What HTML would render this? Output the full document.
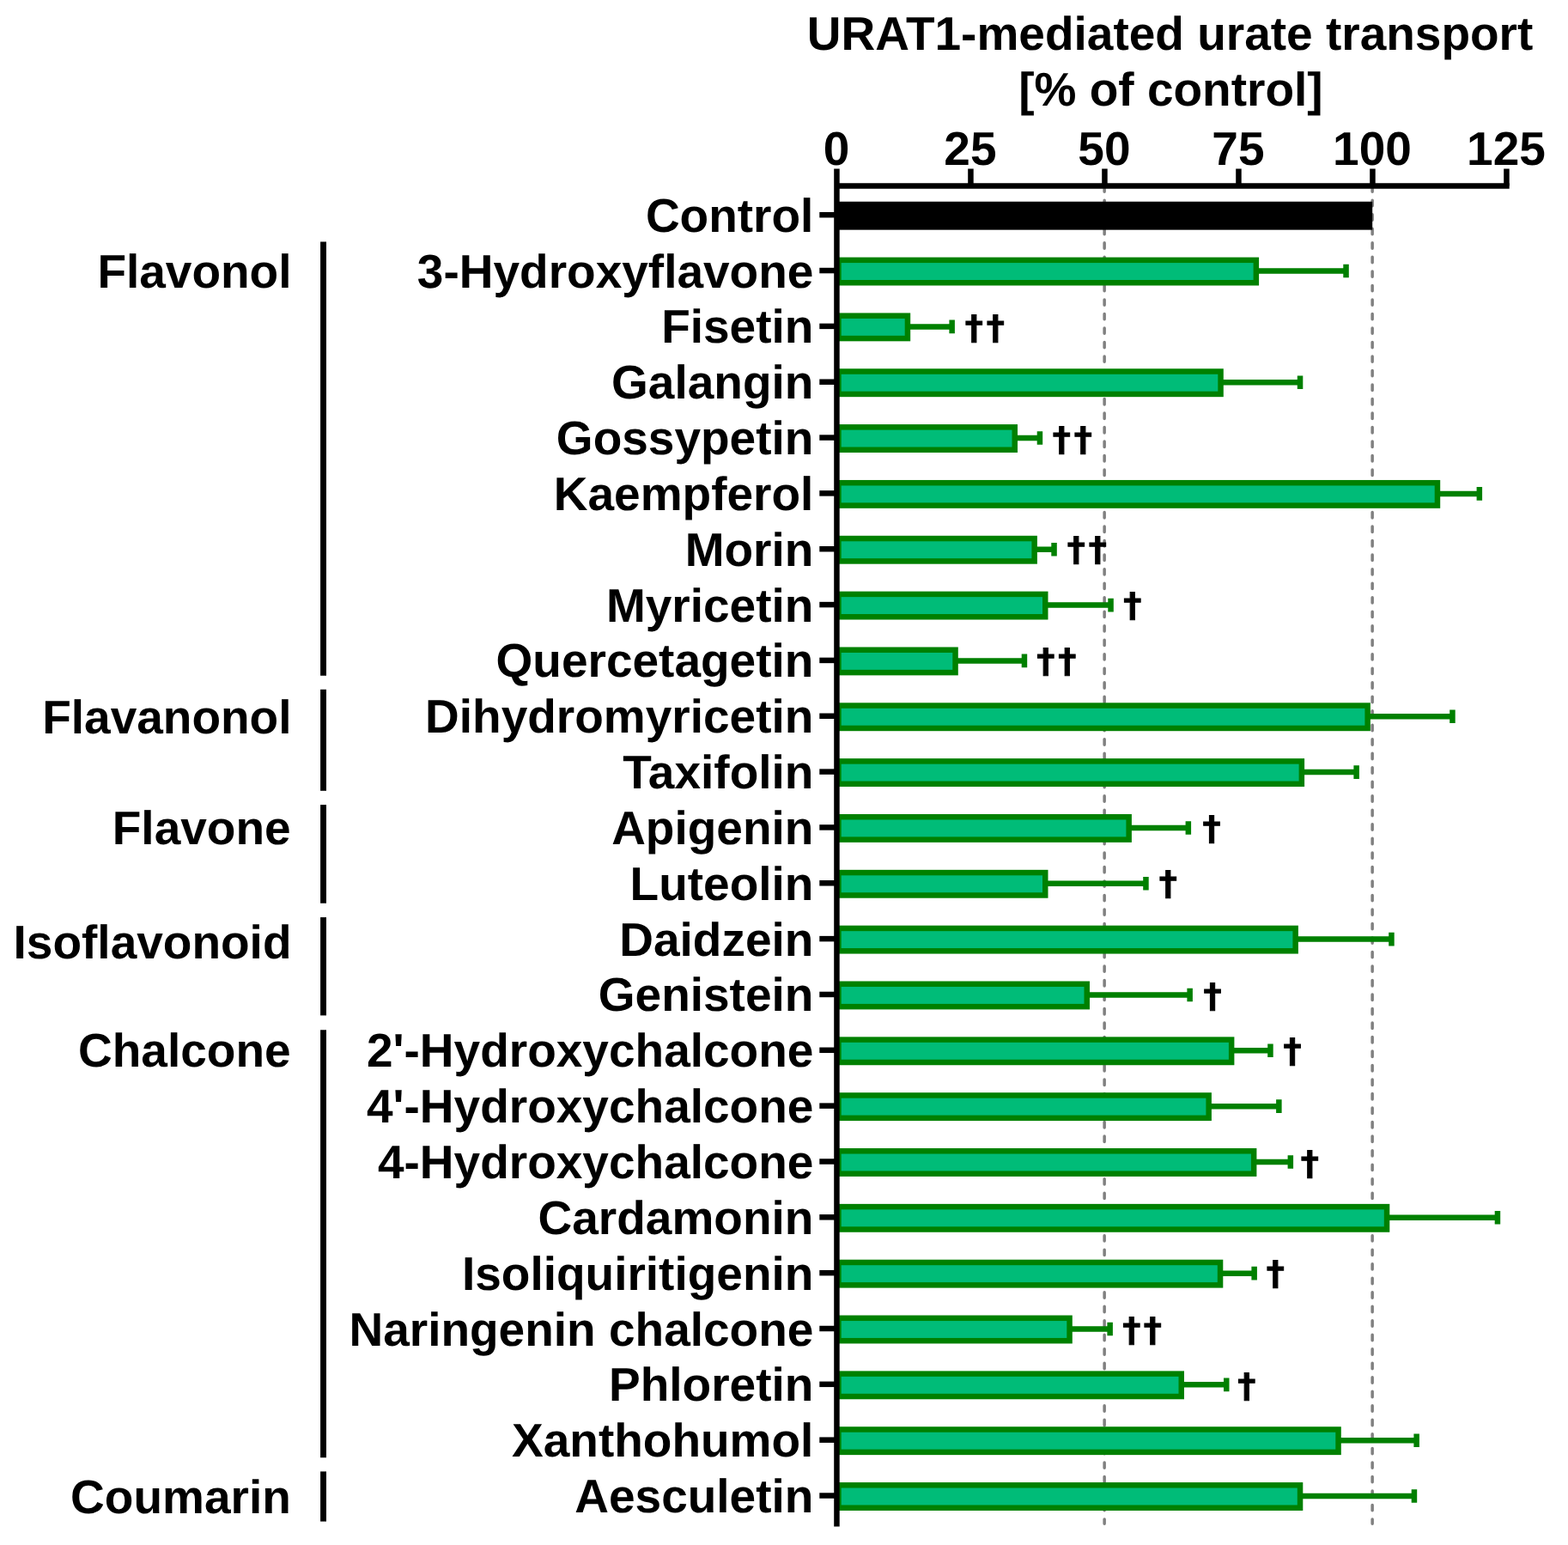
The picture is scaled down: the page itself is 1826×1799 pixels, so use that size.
<!DOCTYPE html>
<html lang="en"><head><meta charset="utf-8"><title>URAT1-mediated urate transport</title>
<style>html,body{margin:0;padding:0;background:#fff}body{width:1826px;height:1799px;overflow:hidden}svg{display:block}text{font-family:"Liberation Sans",sans-serif;font-weight:700;fill:#000;text-rendering:geometricPrecision}text.dg{font-family:"DejaVu Sans Mono","DejaVu Sans","Liberation Sans",sans-serif;stroke:#000;stroke-width:1px;stroke-linejoin:miter}</style></head><body>
<svg width="1826" height="1799" viewBox="0 0 1826 1799">
<rect width="1826" height="1799" fill="#fff"/>
<g font-size="55" text-anchor="middle">
<text x="1362.6" y="58.1">URAT1-mediated urate transport</text>
<text x="1363.4" y="123.3">[% of control]</text>
</g>
<g font-size="55" text-anchor="middle">
<text x="973.95" y="191.9">0</text>
<text x="1129.95" y="191.9">25</text>
<text x="1285.95" y="191.9">50</text>
<text x="1441.95" y="191.9">75</text>
<text x="1597.95" y="191.9">100</text>
<text x="1753.95" y="191.9">125</text>
</g>
<g stroke="#808080" stroke-width="3.5" stroke-linecap="round" stroke-dasharray="6.4 10.112" fill="none">
<line x1="1286.15" y1="200.3" x2="1286.15" y2="1774.2"/>
<line x1="1598.15" y1="200.3" x2="1598.15" y2="1774.2"/>
</g>
<g stroke="#008000" stroke-width="6.5" fill="none">
<path d="M1463.10 315.54H1567.55M1567.55 307.74V323.34"/>
<path d="M1057.20 380.38H1108.65M1108.65 372.58V388.18"/>
<path d="M1421.80 445.22H1514.05M1514.05 437.42V453.02"/>
<path d="M1182.00 510.06H1210.95M1210.95 502.26V517.86"/>
<path d="M1674.20 574.90H1722.85M1722.85 567.10V582.70"/>
<path d="M1204.90 639.74H1227.55M1227.55 631.94V647.54"/>
<path d="M1217.50 704.58H1293.55M1293.55 696.78V712.38"/>
<path d="M1112.80 769.42H1192.95M1192.95 761.62V777.22"/>
<path d="M1592.90 834.26H1691.45M1691.45 826.46V842.06"/>
<path d="M1516.10 899.10H1579.65M1579.65 891.30V906.90"/>
<path d="M1314.90 963.94H1383.85M1383.85 956.14V971.74"/>
<path d="M1217.50 1028.78H1334.45M1334.45 1020.98V1036.58"/>
<path d="M1508.90 1093.62H1620.45M1620.45 1085.82V1101.42"/>
<path d="M1266.00 1158.46H1385.65M1385.65 1150.66V1166.26"/>
<path d="M1434.40 1223.30H1479.45M1479.45 1215.50V1231.10"/>
<path d="M1407.90 1288.14H1489.35M1489.35 1280.34V1295.94"/>
<path d="M1460.40 1352.98H1502.85M1502.85 1345.18V1360.78"/>
<path d="M1615.30 1417.82H1743.95M1743.95 1410.02V1425.62"/>
<path d="M1421.30 1482.66H1460.65M1460.65 1474.86V1490.46"/>
<path d="M1245.80 1547.50H1292.65M1292.65 1539.70V1555.30"/>
<path d="M1376.00 1612.34H1428.25M1428.25 1604.54V1620.14"/>
<path d="M1558.80 1677.18H1649.65M1649.65 1669.38V1684.98"/>
<path d="M1514.30 1742.02H1646.95M1646.95 1734.22V1749.82"/>
</g>
<rect x="974.45" y="234.75" width="623.75" height="32.90" fill="#000"/>
<rect x="976.45" y="302.84" width="486.40" height="26.40" fill="#00bc78" stroke="#008000" stroke-width="6.5"/>
<rect x="976.45" y="367.68" width="80.50" height="26.40" fill="#00bc78" stroke="#008000" stroke-width="6.5"/>
<rect x="976.45" y="432.52" width="445.10" height="26.40" fill="#00bc78" stroke="#008000" stroke-width="6.5"/>
<rect x="976.45" y="497.36" width="205.30" height="26.40" fill="#00bc78" stroke="#008000" stroke-width="6.5"/>
<rect x="976.45" y="562.20" width="697.50" height="26.40" fill="#00bc78" stroke="#008000" stroke-width="6.5"/>
<rect x="976.45" y="627.04" width="228.20" height="26.40" fill="#00bc78" stroke="#008000" stroke-width="6.5"/>
<rect x="976.45" y="691.88" width="240.80" height="26.40" fill="#00bc78" stroke="#008000" stroke-width="6.5"/>
<rect x="976.45" y="756.72" width="136.10" height="26.40" fill="#00bc78" stroke="#008000" stroke-width="6.5"/>
<rect x="976.45" y="821.56" width="616.20" height="26.40" fill="#00bc78" stroke="#008000" stroke-width="6.5"/>
<rect x="976.45" y="886.40" width="539.40" height="26.40" fill="#00bc78" stroke="#008000" stroke-width="6.5"/>
<rect x="976.45" y="951.24" width="338.20" height="26.40" fill="#00bc78" stroke="#008000" stroke-width="6.5"/>
<rect x="976.45" y="1016.08" width="240.80" height="26.40" fill="#00bc78" stroke="#008000" stroke-width="6.5"/>
<rect x="976.45" y="1080.92" width="532.20" height="26.40" fill="#00bc78" stroke="#008000" stroke-width="6.5"/>
<rect x="976.45" y="1145.76" width="289.30" height="26.40" fill="#00bc78" stroke="#008000" stroke-width="6.5"/>
<rect x="976.45" y="1210.60" width="457.70" height="26.40" fill="#00bc78" stroke="#008000" stroke-width="6.5"/>
<rect x="976.45" y="1275.44" width="431.20" height="26.40" fill="#00bc78" stroke="#008000" stroke-width="6.5"/>
<rect x="976.45" y="1340.28" width="483.70" height="26.40" fill="#00bc78" stroke="#008000" stroke-width="6.5"/>
<rect x="976.45" y="1405.12" width="638.60" height="26.40" fill="#00bc78" stroke="#008000" stroke-width="6.5"/>
<rect x="976.45" y="1469.96" width="444.60" height="26.40" fill="#00bc78" stroke="#008000" stroke-width="6.5"/>
<rect x="976.45" y="1534.80" width="269.10" height="26.40" fill="#00bc78" stroke="#008000" stroke-width="6.5"/>
<rect x="976.45" y="1599.64" width="399.30" height="26.40" fill="#00bc78" stroke="#008000" stroke-width="6.5"/>
<rect x="976.45" y="1664.48" width="582.10" height="26.40" fill="#00bc78" stroke="#008000" stroke-width="6.5"/>
<rect x="976.45" y="1729.32" width="537.60" height="26.40" fill="#00bc78" stroke="#008000" stroke-width="6.5"/>
<g stroke="#000" stroke-width="6.5" fill="none">
<path d="M974.45 196.5V1777.6"/>
<path d="M974.45 216.45H1757.70"/>
<path d="M1130.45 196.5V216.45"/>
<path d="M1286.45 196.5V216.45"/>
<path d="M1442.45 196.5V216.45"/>
<path d="M1598.45 196.5V216.45"/>
<path d="M1754.45 196.5V216.45"/>
</g>
<g stroke="#000" stroke-width="6.5" fill="none">
<path d="M954.3 250.20H974.45"/>
<path d="M954.3 315.04H974.45"/>
<path d="M954.3 379.88H974.45"/>
<path d="M954.3 444.72H974.45"/>
<path d="M954.3 509.56H974.45"/>
<path d="M954.3 574.40H974.45"/>
<path d="M954.3 639.24H974.45"/>
<path d="M954.3 704.08H974.45"/>
<path d="M954.3 768.92H974.45"/>
<path d="M954.3 833.76H974.45"/>
<path d="M954.3 898.60H974.45"/>
<path d="M954.3 963.44H974.45"/>
<path d="M954.3 1028.28H974.45"/>
<path d="M954.3 1093.12H974.45"/>
<path d="M954.3 1157.96H974.45"/>
<path d="M954.3 1222.80H974.45"/>
<path d="M954.3 1287.64H974.45"/>
<path d="M954.3 1352.48H974.45"/>
<path d="M954.3 1417.32H974.45"/>
<path d="M954.3 1482.16H974.45"/>
<path d="M954.3 1547.00H974.45"/>
<path d="M954.3 1611.84H974.45"/>
<path d="M954.3 1676.68H974.45"/>
<path d="M954.3 1741.52H974.45"/>
</g>
<g font-size="55" text-anchor="end">
<text x="947.4" y="269.70">Control</text>
<text x="947.4" y="334.54">3-Hydroxyflavone</text>
<text x="947.4" y="399.38">Fisetin</text>
<text x="947.4" y="464.22">Galangin</text>
<text x="947.4" y="529.06">Gossypetin</text>
<text x="947.4" y="593.90">Kaempferol</text>
<text x="947.4" y="658.74">Morin</text>
<text x="947.4" y="723.58">Myricetin</text>
<text x="947.4" y="788.42">Quercetagetin</text>
<text x="947.4" y="853.26">Dihydromyricetin</text>
<text x="947.4" y="918.10">Taxifolin</text>
<text x="947.4" y="982.94">Apigenin</text>
<text x="947.4" y="1047.78">Luteolin</text>
<text x="947.4" y="1112.62">Daidzein</text>
<text x="947.4" y="1177.46">Genistein</text>
<text x="947.4" y="1242.30">2'-Hydroxychalcone</text>
<text x="947.4" y="1307.14">4'-Hydroxychalcone</text>
<text x="947.4" y="1371.98">4-Hydroxychalcone</text>
<text x="947.4" y="1436.82">Cardamonin</text>
<text x="947.4" y="1501.66">Isoliquiritigenin</text>
<text x="947.4" y="1566.50">Naringenin chalcone</text>
<text x="947.4" y="1631.34">Phloretin</text>
<text x="947.4" y="1696.18">Xanthohumol</text>
<text x="947.4" y="1761.02">Aesculetin</text>
</g>
<g font-size="39.0" text-anchor="middle">
<text class="dg" transform="translate(1146.85 395) scale(1.07 1)" x="-11.68 11.68" y="0">††</text>
<text class="dg" transform="translate(1248.90 525) scale(1.07 1)" x="-11.68 11.68" y="0">††</text>
<text class="dg" transform="translate(1265.75 653) scale(1.07 1)" x="-11.71 11.71" y="0">††</text>
<text class="dg" transform="translate(1318.90 718) scale(1.07 1)" x="0" y="0">†</text>
<text class="dg" transform="translate(1230.30 783) scale(1.07 1)" x="-11.71 11.71" y="0">††</text>
<text class="dg" transform="translate(1411.00 978) scale(1.07 1)" x="0" y="0">†</text>
<text class="dg" transform="translate(1360.30 1042) scale(1.07 1)" x="0" y="0">†</text>
<text class="dg" transform="translate(1411.95 1173) scale(1.07 1)" x="0" y="0">†</text>
<text class="dg" transform="translate(1504.95 1237) scale(1.07 1)" x="0" y="0">†</text>
<text class="dg" transform="translate(1525.30 1368) scale(1.07 1)" x="0" y="0">†</text>
<text class="dg" transform="translate(1485.30 1496) scale(1.07 1)" x="0" y="0">†</text>
<text class="dg" transform="translate(1330.15 1562) scale(1.07 1)" x="-11.43 11.43" y="0">††</text>
<text class="dg" transform="translate(1451.90 1627) scale(1.07 1)" x="0" y="0">†</text>
</g>
<g font-size="55" text-anchor="end">
<text x="339.5" y="334.75">Flavonol</text>
<text x="339.5" y="854.30">Flavanonol</text>
<text x="338.6" y="983.10">Flavone</text>
<text x="339.5" y="1115.70">Isoflavonoid</text>
<text x="338.6" y="1241.50">Chalcone</text>
<text x="338.8" y="1762.40">Coumarin</text>
</g>
<g stroke="#000" stroke-width="6.9" fill="none">
<path d="M376.55 281.40V786.70"/>
<path d="M376.55 802.80V920.80"/>
<path d="M376.55 937.10V1051.75"/>
<path d="M376.55 1068.10V1182.40"/>
<path d="M376.55 1199.20V1697.30"/>
<path d="M376.55 1713.40V1771.60"/>
</g>
</svg></body></html>
